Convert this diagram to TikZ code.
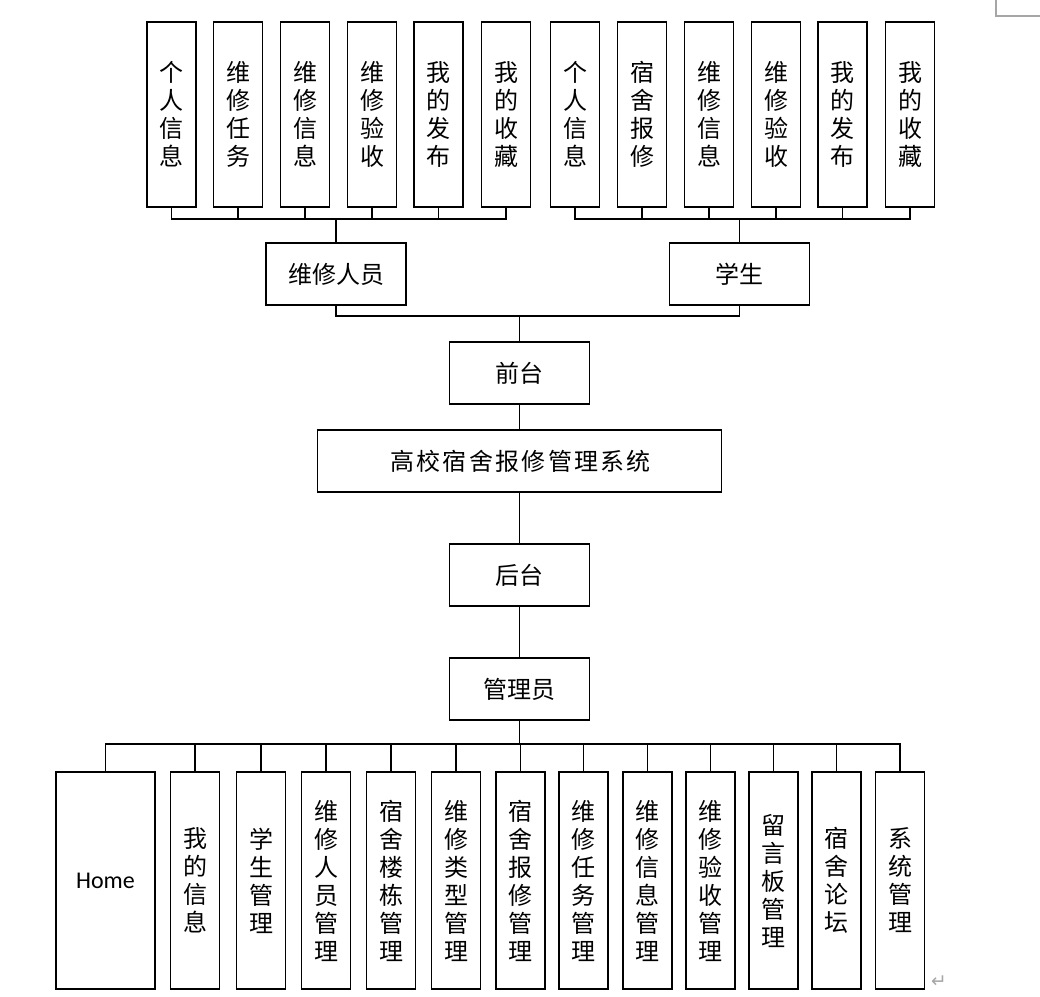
\documentclass[tikz,border=0pt]{standalone}
\usepackage{fontspec}
\newfontfamily\cjk{Noto Sans CJK SC}
\newfontfamily\cjkwide[LetterSpace=9.5]{Noto Sans CJK SC}
\newfontfamily\homefont{Carlito}
\newfontfamily\markfont{DejaVu Sans}

\begin{document}
\begin{tikzpicture}[
  x=0.75pt, y=-0.75pt,
  box/.style={draw, line width=0.9pt, inner sep=0pt, align=center,
    font=\cjk\fontsize{18}{21}\selectfont},
  tallbox/.style={box, minimum width=36.75pt, minimum height=138.75pt},
  lowbox/.style={box, minimum width=36.75pt, minimum height=162.75pt},
  midbox/.style={box, minimum width=105pt, minimum height=46.5pt},
  edge/.style={line width=0.8pt}
]
\useasboundingbox (0,0) rectangle (1040,997);

% Top row: modules of the two front-end roles
\node[tallbox] (w1) at (171.5,114.5) {个\\人\\信\\息};
\node[tallbox] (w2) at (238,114.5)   {维\\修\\任\\务};
\node[tallbox] (w3) at (305,114.5)   {维\\修\\信\\息};
\node[tallbox] (w4) at (372,114.5)   {维\\修\\验\\收};
\node[tallbox] (w5) at (438.5,114.5) {我\\的\\发\\布};
\node[tallbox] (w6) at (506,114.5)   {我\\的\\收\\藏};

\node[tallbox] (s1) at (575,114.5)   {个\\人\\信\\息};
\node[tallbox] (s2) at (642,114.5)   {宿\\舍\\报\\修};
\node[tallbox] (s3) at (709,114.5)   {维\\修\\信\\息};
\node[tallbox] (s4) at (776,114.5)   {维\\修\\验\\收};
\node[tallbox] (s5) at (842.5,114.5) {我\\的\\发\\布};
\node[tallbox] (s6) at (910,114.5)   {我\\的\\收\\藏};

% Roles
\node[midbox] (staff)   at (336,274)   {维修人员};
\node[midbox] (student) at (739.5,274) {学生};

\coordinate (wbus) at (336,219);
\coordinate (sbus) at (739.5,219);
\coordinate (fbus) at (519.5,316);

\foreach \i in {1,...,6} {
  \draw[edge] (wbus) -| (w\i.south);
  \draw[edge] (sbus) -| (s\i.south);
}
\draw[edge] (wbus) -- (staff.north);
\draw[edge] (sbus) -- (student.north);
\draw[edge] (fbus) -| (staff.south);
\draw[edge] (fbus) -| (student.south);

% Middle column
\node[midbox] (front) at (519.5,373) {前台};
\node[box, minimum width=303pt, minimum height=46.5pt,
  font=\cjkwide\fontsize{18}{21}\selectfont] (sys) at (519.5,461)
  {高校宿舍报修管理系统\kern-1.7pt};
\node[midbox] (back)  at (519.5,575) {后台};
\node[midbox] (admin) at (519.5,689) {管理员};

\draw[edge] (fbus) -- (front.north);
\draw[edge] (front) -- (sys);
\draw[edge] (sys) -- (back);
\draw[edge] (back) -- (admin);

% Bottom row: administrator modules
\node[box, minimum width=74.25pt, minimum height=162.75pt,
  font=\homefont\fontsize{18}{21}\selectfont] (a0) at (105.5,880.5) {Home};
\node[lowbox] (a1)  at (195,880.5)   {我\\的\\信\\息};
\node[lowbox] (a2)  at (261,880.5)   {学\\生\\管\\理};
\node[lowbox] (a3)  at (326,880.5)   {维\\修\\人\\员\\管\\理};
\node[lowbox] (a4)  at (391,880.5)   {宿\\舍\\楼\\栋\\管\\理};
\node[lowbox] (a5)  at (456,880.5)   {维\\修\\类\\型\\管\\理};
\node[lowbox] (a6)  at (520.5,880.5) {宿\\舍\\报\\修\\管\\理};
\node[lowbox] (a7)  at (583.5,880.5) {维\\修\\任\\务\\管\\理};
\node[lowbox] (a8)  at (647.5,880.5) {维\\修\\信\\息\\管\\理};
\node[lowbox] (a9)  at (710.5,880.5) {维\\修\\验\\收\\管\\理};
\node[lowbox] (a10) at (773.5,880.5) {留\\言\\板\\管\\理};
\node[lowbox] (a11) at (836.5,880.5) {宿\\舍\\论\\坛};
\node[lowbox] (a12) at (900,880.5)   {系\\统\\管\\理};

\coordinate (abus) at (519.5,744);
\draw[edge] (admin.south) -- (abus);
\foreach \i in {0,...,12}
  \draw[edge] (abus) -| (a\i.north);

% page marks
\draw[gray!70, line width=0.8pt] (996,0) -- (996,16) -- (1040,16);
\node[gray!70, font=\markfont\fontsize{14}{16}\selectfont, inner sep=0pt]
  (ret) at (939,982) {↵};
\end{tikzpicture}
\end{document}
